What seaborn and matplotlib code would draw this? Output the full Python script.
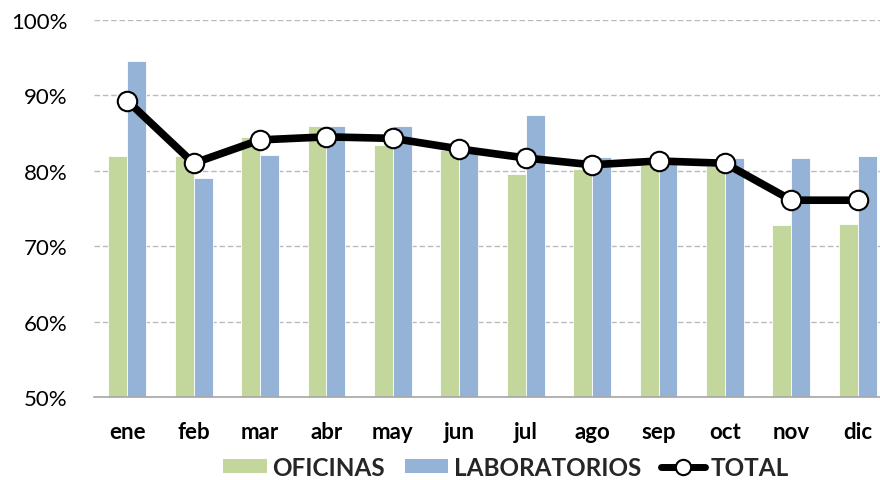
import matplotlib
matplotlib.use('Agg')
import matplotlib.pyplot as plt
import numpy as np
import pandas as pd
import seaborn as sns
from matplotlib.patches import Patch
from matplotlib.lines import Line2D
from matplotlib.ticker import PercentFormatter

meses = ['ene', 'feb', 'mar', 'abr', 'may', 'jun', 'jul', 'ago', 'sep', 'oct', 'nov', 'dic']
oficinas = [82.0, 82.0, 84.5, 85.9, 83.4, 82.8, 79.6, 80.2, 80.8, 80.6, 72.8, 73.0]
laboratorios = [94.5, 79.0, 82.1, 86.0, 86.0, 82.4, 87.4, 81.8, 81.5, 81.7, 81.7, 82.0]
total = [89.3, 81.0, 84.1, 84.5, 84.3, 82.9, 81.7, 80.8, 81.3, 81.0, 76.1, 76.1]

verde = '#C3D69B'
azul = '#95B3D7'

sns.set_theme(style='white')
plt.rcParams['font.family'] = ['Lato', 'DejaVu Sans']

df = pd.DataFrame({
    'mes': meses * 2,
    'valor': oficinas + laboratorios,
    'serie': ['OFICINAS'] * 12 + ['LABORATORIOS'] * 12,
})

fig = plt.figure(figsize=(8.8, 4.81), dpi=100)
ax = fig.add_axes([94 / 880, 1 - 398 / 481, (891 - 94) / 880, (398 - 21) / 481])

sns.barplot(data=df, x='mes', y='valor', hue='serie', order=meses,
            palette=[verde, azul], saturation=1, width=0.57, dodge=True, ax=ax,
            edgecolor='white', linewidth=0.6, legend=False)
ax.plot(np.arange(len(meses)), total, color='black', lw=5.5,
        marker='o', markersize=14, markerfacecolor='white',
        markeredgecolor='black', markeredgewidth=1.5, zorder=5)

ax.set_ylim(50, 100)
ax.set_xlim(-0.5, 11.5)
ax.set_yticks([50, 60, 70, 80, 90, 100])
ax.yaxis.set_major_formatter(PercentFormatter(decimals=0))
ax.grid(axis='y', color='#BBBBBB', linestyle=(0, (4, 2)), linewidth=1)
ax.set_axisbelow(True)
for s in ['left', 'right', 'top']:
    ax.spines[s].set_visible(False)
ax.spines['bottom'].set_color('#A6A6A6')
ax.spines['bottom'].set_linewidth(1.2)
ax.set_xlabel('')
ax.set_ylabel('')
ax.tick_params(axis='y', length=0, pad=19, labelsize=16, labelcolor='black')
ax.tick_params(axis='x', length=0, pad=17, labelsize=16, labelcolor='black')
for t in ax.get_xticklabels():
    t.set_fontweight('bold')

handles = [
    Patch(facecolor=verde, edgecolor='none', label='OFICINAS'),
    Patch(facecolor=azul, edgecolor='none', label='LABORATORIOS'),
    Line2D([], [], color='black', lw=5, marker='o', markersize=11,
           markerfacecolor='white', markeredgecolor='black', markeredgewidth=1.5,
           label='TOTAL'),
]
fig.legend(handles=handles, loc='center', bbox_to_anchor=(506 / 880, 1 - 468 / 481),
           ncol=3, frameon=False, prop={'weight': 'bold', 'size': 17.5},
           handlelength=1.8, handleheight=0.55, handletextpad=0.25, columnspacing=0.8)

fig.savefig('out.png', dpi=100)
